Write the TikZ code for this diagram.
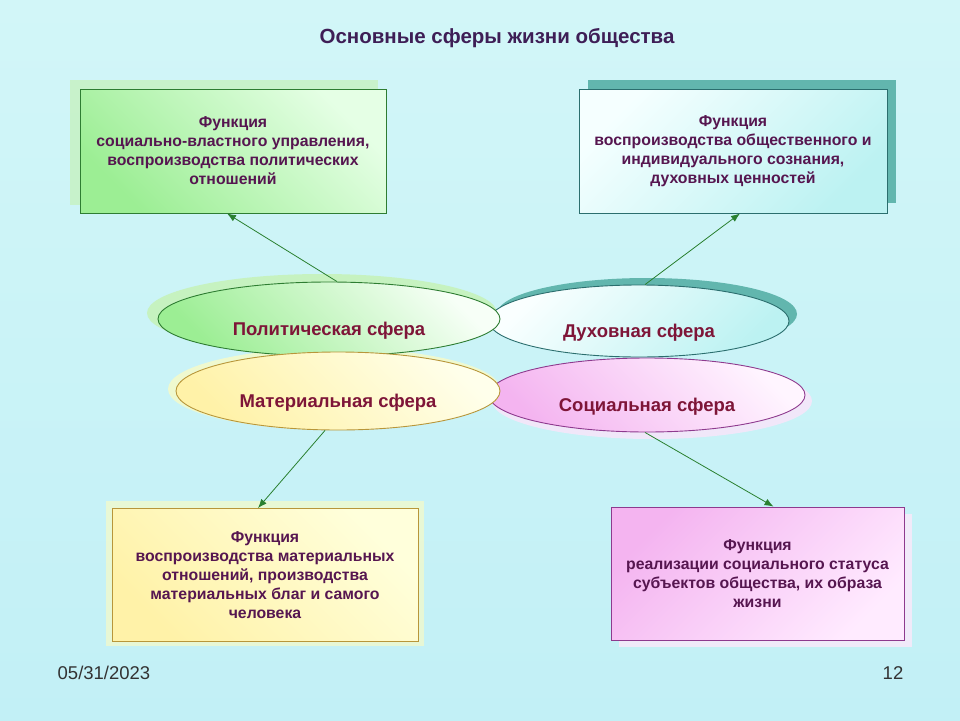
\documentclass[tikz,border=0pt]{standalone}
\usepackage{fontspec}
\setmainfont{Liberation Sans}
\usetikzlibrary{shapes.geometric, arrows.meta}
\definecolor{bgtop}{HTML}{D2F6F8}
\definecolor{bgmid}{HTML}{F4FDFC}
\definecolor{bgbot}{HTML}{C2F0F6}
\definecolor{grline}{HTML}{2E7D32}
\definecolor{grfill}{HTML}{9CEE94}
\definecolor{grglow}{HTML}{C6F2C0}
\definecolor{tealline}{HTML}{2B6E6E}
\definecolor{tealfill}{HTML}{BCF2F2}
\definecolor{tealshadow}{HTML}{62B6AE}
\definecolor{yelline}{HTML}{B8963A}
\definecolor{yelfill}{HTML}{FFF2A8}
\definecolor{pkline}{HTML}{8E3A8E}
\definecolor{pkfill}{HTML}{F4B4F0}
\definecolor{arrgreen}{HTML}{2A8030}
\definecolor{boxtext}{HTML}{561650}
\definecolor{sphtext}{HTML}{7E1538}
\definecolor{titletext}{HTML}{3E1E56}

\begin{document}
\begin{tikzpicture}[x=1pt, y=-1pt,
    func/.style = {draw, rectangle, inner sep=0pt, align=center, line width=0.9pt,
      font=\bfseries\fontsize{15.8}{19}\selectfont, text=boxtext},
    sphere/.style = {draw, ellipse, inner sep=0pt, line width=0.9pt,
      text height=32pt, text depth=0pt,
      font=\bfseries\fontsize{18.5}{20}\selectfont, text=sphtext},
    link/.style = {draw=arrgreen, -{Latex[length=9pt, width=7pt]}, line width=0.8pt}]
      \useasboundingbox (0,0) rectangle (960,720);
      \shade [top color=bgtop, middle color=bgmid, bottom color=bgbot] (0,0) rectangle (960,720);

      \node [font=\bfseries\fontsize{20.5}{24}\selectfont, text=titletext] (title) at (497,38) {Основные сферы жизни общества};

      % shadows
      \fill [grglow, opacity=0.8] (70,80) rectangle (378,205);
      \fill [tealshadow] (588,80) rectangle (896,203);
      \fill [yellow!25, opacity=0.6] (106,501) rectangle (424,646);
      \fill [pkfill!30, opacity=0.8] (619,514) rectangle (912,647);

      \node [func, draw=grline, top color=grfill, bottom color=green!10!white, shading angle=135,
             minimum width=306pt, minimum height=124pt] (fpol) at (233,151)
            {Функция\\социально-властного управления,\\воспроизводства политических\\отношений};
      \node [func, draw=tealline, top color=tealfill, bottom color=cyan!4!white, shading angle=225,
             minimum width=308pt, minimum height=124pt] (fdukh) at (733,151)
            {Функция\\воспроизводства общественного и\\индивидуального сознания,\\духовных ценностей};
      \node [func, draw=yelline, top color=yelfill, bottom color=yellow!14!white, shading angle=135,
             minimum width=306pt, minimum height=133pt] (fmat) at (265,575)
            {Функция\\воспроизводства материальных\\отношений, производства\\материальных благ и самого\\человека};
      \node [func, draw=pkline, top color=pkfill, bottom color=magenta!8!white, shading angle=45,
             minimum width=293pt, minimum height=133pt] (fsoc) at (757.5,573.5)
            {Функция\\реализации социального статуса\\субъектов общества, их образа\\жизни};

      % glow of the spheres
      \fill [tealshadow] (647,314) ellipse [x radius=150, y radius=36];
      \fill [pkfill!35, opacity=0.8] (652,401) ellipse [x radius=160, y radius=38];
      \fill [grglow] (322,313) ellipse [x radius=175, y radius=39];
      \fill [yellow!25, opacity=0.7] (334,389) ellipse [x radius=166, y radius=41];

      \node [sphere, draw=tealline, top color=tealfill, bottom color=cyan!2!white, shading angle=225,
             minimum width=300pt, minimum height=72pt] (dukh) at (639,321) {Духовная сфера};
      \node [sphere, draw=pkline, top color=pkfill, bottom color=magenta!4!white, shading angle=135,
             minimum width=316pt, minimum height=74pt] (soc) at (647,395) {Социальная сфера};
      \node [sphere, draw=grline, top color=grfill, bottom color=green!3!white, shading angle=135,
             minimum width=342pt, minimum height=74pt] (pol) at (329,319) {Политическая сфера};
      \node [sphere, draw=yelline, top color=yelfill, bottom color=yellow!8!white, shading angle=135,
             minimum width=324pt, minimum height=78pt] (mat) at (338,391) {Материальная сфера};

      \draw [link] ([xshift=8pt]pol.north) -- ([xshift=-6pt]fpol.south);
      \draw [link] ([xshift=6pt]dukh.north) -- ([xshift=7pt]fdukh.south);
      \draw [link] ([xshift=-13pt]mat.south) -- ([xshift=-7pt]fmat.north);
      \draw [link] ([xshift=-2pt]soc.south) -- ([xshift=16pt]fsoc.north);

      \node [font=\fontsize{18.5}{20}\selectfont, text=black!80] (date) at (104,673) {05/31/2023};
      \node [font=\fontsize{18.5}{20}\selectfont, text=black!80] (page) at (893,673) {12};
\end{tikzpicture}
\end{document}
